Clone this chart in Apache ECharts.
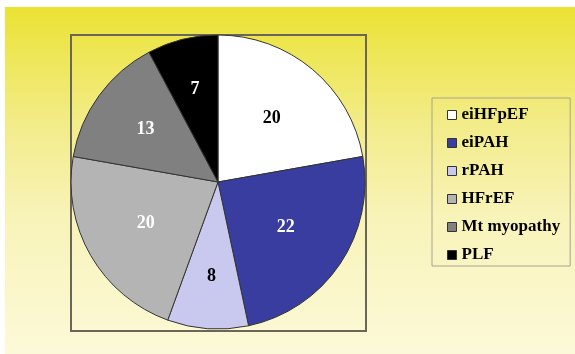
<!DOCTYPE html>
<html>
<head>
<meta charset="utf-8">
<script src="https://cdn.jsdelivr.net/npm/echarts@6/dist/echarts.min.js"></script>
<style>
  html, body { margin: 0; padding: 0; background: #ffffff; }
  #chart { width: 575px; height: 354px; }
</style>
</head>
<body>
<div id="chart"></div>
<script>
// Group names and counts, clockwise from 12 o'clock
const categories = ['eiHFpEF', 'eiPAH', 'rPAH', 'HFrEF', 'Mt myopathy', 'PLF'];
const counts = [20, 22, 8, 20, 13, 7];
const sliceColors = ['#ffffff', '#393d9f', '#c9c9ef', '#b4b4b4', '#808080', '#000000'];
const labelColors = ['#000000', '#ffffff', '#000000', '#ffffff', '#ffffff', '#ffffff'];

const pieCenter = [218, 182];
const pieRadius = 147;
const total = counts.reduce(function (a, b) { return a + b; }, 0);

// Narrow slices get their value label further out, where there is more room
function labelRadius(share) {
  return pieRadius * (0.69 - 0.55 * share);
}

const chart = echarts.init(document.getElementById('chart'), null, { renderer: 'canvas' });

const serif = '"Liberation Serif", "Times New Roman", serif';

chart.setOption({
  animation: false,
  graphic: [
    {
      type: 'rect',
      z: -10,
      silent: true,
      shape: { x: 5, y: 7, width: 570, height: 347 },
      style: {
        fill: new echarts.graphic.LinearGradient(0, 0, 0, 1, [
          { offset: 0, color: '#ebe233' },
          { offset: 0.15, color: '#eee75a' },
          { offset: 0.35, color: '#f3ec8c' },
          { offset: 0.6, color: '#f8f3b8' },
          { offset: 1, color: '#fcf9d8' }
        ])
      }
    },
    {
      type: 'rect',
      z: -5,
      silent: true,
      shape: { x: 71, y: 35, width: 295, height: 296 },
      style: { fill: 'none', stroke: '#6b6758', lineWidth: 2 }
    }
  ],
  legend: {
    orient: 'vertical',
    left: 432,
    top: 98,
    width: 140,
    padding: [8, 10, 2, 15],
    itemGap: 10,
    itemWidth: 9,
    itemHeight: 9,
    icon: 'rect',
    borderColor: '#a8a48c',
    borderWidth: 1,
    selectedMode: false,
    itemStyle: { borderColor: '#333333', borderWidth: 1 },
    textStyle: {
      fontFamily: serif,
      fontWeight: 'bold',
      fontSize: 17,
      lineHeight: 18,
      color: '#000000'
    },
    data: categories
  },
  series: [
    {
      type: 'pie',
      center: pieCenter,
      radius: [0, pieRadius],
      startAngle: 90,
      clockwise: true,
      silent: true,
      emphasis: { disabled: true },
      itemStyle: { borderColor: '#333333', borderWidth: 1 },
      label: {
        show: true,
        position: 'inside',
        formatter: '{c}',
        fontFamily: serif,
        fontWeight: 'bold',
        fontSize: 18
      },
      labelLine: { show: false },
      labelLayout: function (p) {
        const r = p.labelRect;
        const vx = r.x + r.width / 2 - pieCenter[0];
        const vy = r.y + r.height / 2 - pieCenter[1];
        const d0 = Math.sqrt(vx * vx + vy * vy) || 1;
        const d1 = labelRadius(counts[p.dataIndex] / total);
        return {
          dx: vx / d0 * (d1 - d0),
          dy: vy / d0 * (d1 - d0)
        };
      },
      data: categories.map(function (name, i) {
        return {
          name: name,
          value: counts[i],
          itemStyle: { color: sliceColors[i] },
          label: { color: labelColors[i] }
        };
      })
    }
  ]
});
</script>
</body>
</html>
